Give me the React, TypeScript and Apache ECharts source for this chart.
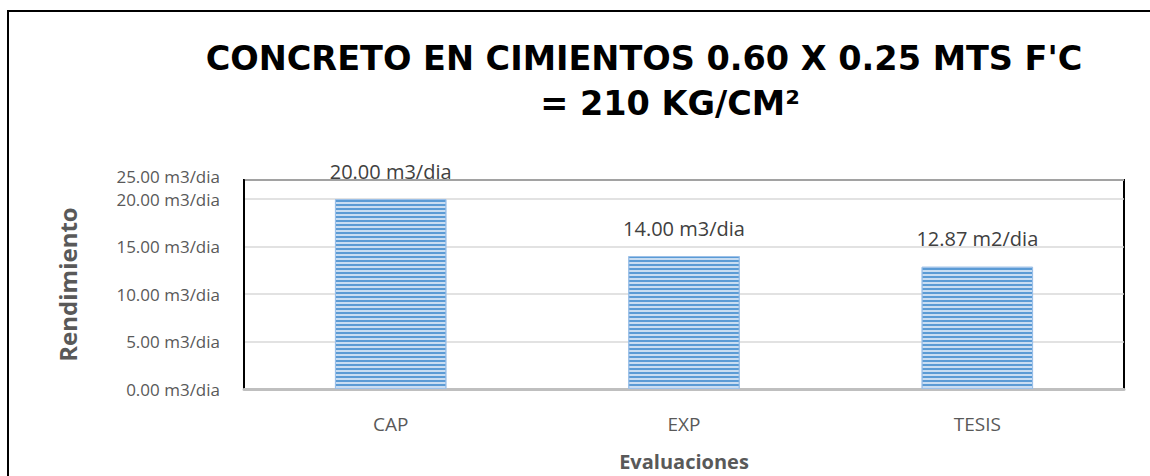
import React, { useEffect, useRef } from "react";
import * as echarts from "echarts";

const categories = ["CAP", "EXP", "TESIS"];
const values = [20.0, 14.0, 12.87];
const valueLabels = ["20.00 m3/dia", "14.00 m3/dia", "12.87 m2/dia"];
const yTicks = [0, 5, 10, 15, 20];
const yTopLabel = "25.00 m3/dia";
const titleLines = ["CONCRETO EN CIMIENTOS 0.60 X 0.25 MTS F'C", "= 210 KG/CM²"];
const Y_MAX = 22;

const FONT = "'Open Sans', 'Noto Sans', sans-serif";
const TITLE_FONT = "'DejaVu Sans', 'Open Sans', sans-serif";

export default function App() {
  const ref = useRef<HTMLDivElement>(null);
  useEffect(() => {
    if (!ref.current) return;
    const chart = echarts.init(ref.current, null, { renderer: "svg" });
    chart.setOption({
      animation: false,
      aria: { enabled: true, decal: { show: true } },
      textStyle: { fontFamily: FONT },
      grid: {
        left: 244,
        right: 26,
        top: 180,
        bottom: 87,
        show: true,
        borderColor: "#000",
        borderWidth: 2,
        backgroundColor: "#fff",
      },
      graphic: [
        {
          type: "rect",
          shape: { x: 8, y: 11, width: 1400, height: 700 },
          style: { fill: "none", stroke: "#000", lineWidth: 2 },
          z: -10,
          silent: true,
        },
        {
          type: "text",
          x: 644,
          y: 58,
          style: {
            text: titleLines[0],
            fontFamily: TITLE_FONT,
            fontWeight: "bold",
            fontSize: 33.5,
            fill: "#000",
            textAlign: "center",
            textVerticalAlign: "middle",
          },
        },
        {
          type: "text",
          x: 670,
          y: 103,
          style: {
            text: titleLines[1],
            fontFamily: TITLE_FONT,
            fontWeight: "bold",
            fontSize: 33.5,
            fill: "#000",
            textAlign: "center",
            textVerticalAlign: "middle",
          },
        },
        {
          type: "text",
          x: 220,
          y: 176,
          style: {
            text: yTopLabel,
            fontFamily: FONT,
            fontSize: 17,
            fill: "#595959",
            textAlign: "right",
            textVerticalAlign: "middle",
          },
        },
      ],
      xAxis: {
        type: "category",
        data: categories,
        name: "Evaluaciones",
        nameLocation: "middle",
        nameGap: 62,
        nameTextStyle: { fontFamily: FONT, fontWeight: "bold", fontSize: 20, color: "#595959" },
        axisLine: { lineStyle: { color: "#bfbfbf", width: 3 } },
        axisTick: { show: false },
        axisLabel: { fontFamily: FONT, fontSize: 19, color: "#595959", margin: 25 },
      },
      yAxis: {
        type: "value",
        min: 0,
        max: Y_MAX,
        interval: 5,
        name: "Rendimiento",
        nameLocation: "middle",
        nameGap: 165,
        nameRotate: 90,
        nameTextStyle: { fontFamily: FONT, fontWeight: "bold", fontSize: 24, color: "#595959" },
        axisLine: { show: true, lineStyle: { color: "#000", width: 2 } },
        axisTick: { show: false },
        splitLine: { lineStyle: { color: "#d9d9d9", width: 1.5 } },
        axisLabel: {
          fontFamily: FONT,
          fontSize: 17,
          color: "#595959",
          margin: 24,
          showMaxLabel: false,
          formatter: (v: number) => {
            const t = yTicks.find((x) => x === v);
            return t !== undefined ? t.toFixed(2) + " m3/dia" : "";
          },
        },
      },
      series: [
        {
          type: "bar",
          data: values,
          barWidth: "38%",
          itemStyle: {
            color: "#c9ddf2",
            borderColor: "#9cc0e8",
            borderWidth: 1,
            decal: {
              symbol: "rect",
              symbolSize: 1,
              dashArrayX: [1, 0],
              dashArrayY: [1.5, 1.5],
              rotation: 0,
              color: "#5b9bd5",
            },
          },
          label: {
            show: true,
            position: "top",
            distance: 18,
            fontFamily: FONT,
            fontSize: 20,
            color: "#404040",
            formatter: (p: any) => valueLabels[p.dataIndex],
          },
        },
      ],
    });
    return () => chart.dispose();
  }, []);
  return (
    <div
      ref={ref}
      style={{ position: "absolute", left: 0, top: 0, width: 1150, height: 476, background: "#fff" }}
    />
  );
}
